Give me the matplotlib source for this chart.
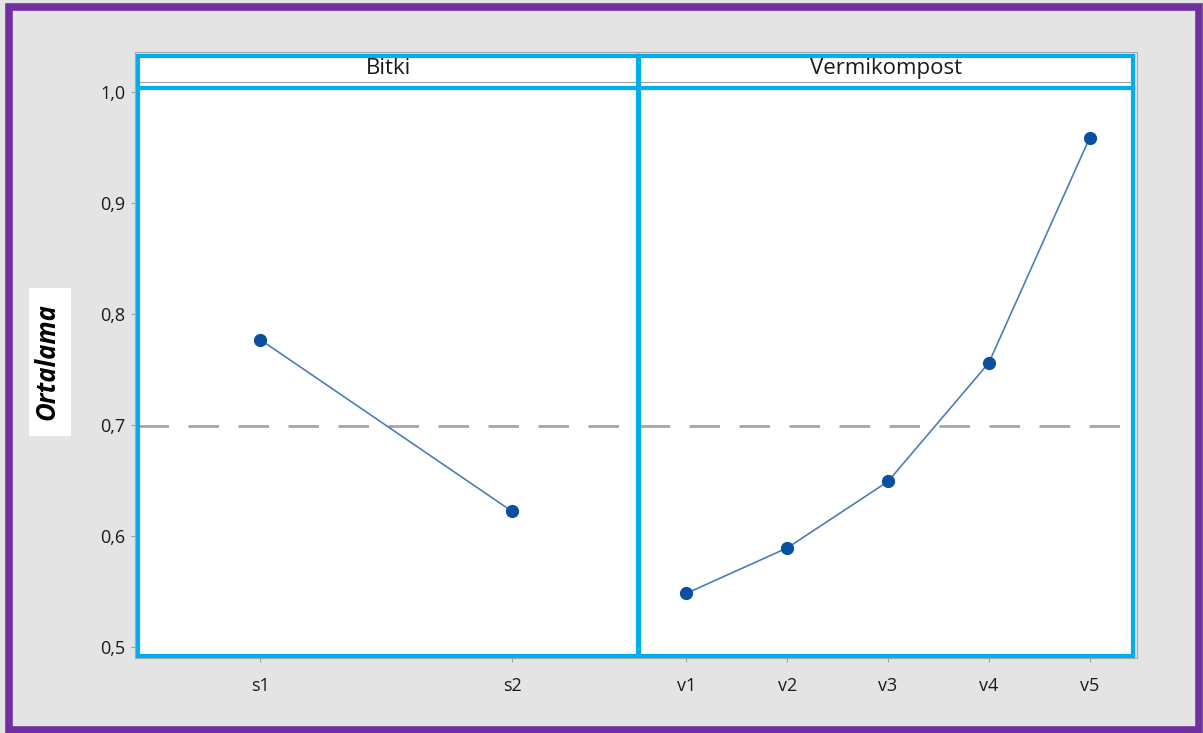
import matplotlib
matplotlib.use("Agg")
import matplotlib.pyplot as plt
from matplotlib.patches import Rectangle
from matplotlib.ticker import FixedLocator, FuncFormatter

# Data
bitki_levels = ["s1", "s2"]
bitki_means = [0.777, 0.622]
verm_levels = ["v1", "v2", "v3", "v4", "v5"]
verm_means = [0.548, 0.589, 0.649, 0.756, 0.959]
grand_mean = 0.699
panel_titles = ["Bitki", "Vermikompost"]
y_ticks = [0.5, 0.6, 0.7, 0.8, 0.9, 1.0]
y_label = "Ortalama"

plt.rcParams['font.family'] = ['Open Sans', 'DejaVu Sans']

W, H = 1203, 733
fig = plt.figure(figsize=(W / 100, H / 100), dpi=100)
fig.patch.set_facecolor('#e4e4e4')

def ax_rect(x0, y0, x1, y1):
    return [x0 / W, 1 - y1 / H, (x1 - x0) / W, (y1 - y0) / H]

BLUE = '#00aeef'
LINE = '#4a7ebb'
MARK = '#0a4fa0'
ylim = (0.4915, 1.004)

# outer thin gray frame
fig.patches.append(Rectangle((135 / W, 1 - 658 / H), (1137 - 135) / W, (658 - 52) / H,
                             transform=fig.transFigure, fill=False, ec='#a8a8a8', lw=0.8, zorder=0))

panels = [
    (138, 638, bitki_levels, bitki_means, (0.515, 2.5)),
    (639, 1133, verm_levels, verm_means, (0.53, 5.43)),
]
for i, (x0, x1, levels, means, xl) in enumerate(panels):
    ax = fig.add_axes(ax_rect(x0, 88, x1, 656))
    ax.set_facecolor('white')
    xs = list(range(1, len(levels) + 1))
    ax.plot(xs, means, color=LINE, lw=1.2, marker='o', ms=8.5,
            mfc=MARK, mec=MARK, zorder=3)
    ax.axhline(grand_mean, color='#a6a6a6', lw=2.0, dashes=(11, 7), zorder=2)
    ax.set_xlim(*xl)
    ax.set_ylim(*ylim)
    ax.set_xticks(xs)
    ax.set_xticklabels(levels, fontsize=13, color='#1a1a1a')
    ax.tick_params(axis='x', length=4, width=0.8, color='#a0a0a0', pad=11)
    for sp in ax.spines.values():
        sp.set_color(BLUE)
        sp.set_linewidth(3.0)
    if i == 0:
        ax.yaxis.set_major_locator(FixedLocator(y_ticks))
        ax.yaxis.set_major_formatter(FuncFormatter(lambda v, p: f"{v:.1f}".replace('.', ',')))
        ax.tick_params(axis='y', length=5, width=0.8, color='#a0a0a0', labelsize=13,
                       labelcolor='#1a1a1a', pad=4)
    else:
        ax.set_yticks([])
    # strip
    sax = fig.add_axes(ax_rect(x0, 56, x1, 88))
    sax.set_facecolor('white')
    sax.set_xticks([])
    sax.set_yticks([])
    for sp in sax.spines.values():
        sp.set_color(BLUE)
        sp.set_linewidth(3.0)
    sax.axhline(0.2, color='#a0a0a0', lw=0.8)
    sax.text(0.5, 0.6, panel_titles[i], transform=sax.transAxes, ha='center', va='center',
             fontsize=16, color='#1a1a1a')

# y label with white box
fig.patches.append(Rectangle((29 / W, 1 - 436 / H), 42 / W, 148 / H,
                             transform=fig.transFigure, fc='white', ec='none', zorder=1))
fig.text(47 / W, 1 - 362 / H, y_label, rotation=90, ha='center', va='center',
         fontsize=18.5, fontweight='bold', fontstyle='italic', color='black', zorder=2)

# purple border
fig.patches.append(Rectangle((8.5 / W, 1 - 729.5 / H), (1198.5 - 8.5) / W, (729.5 - 7) / H,
                             transform=fig.transFigure, fill=False, ec='#7030a0', lw=5.5, zorder=10))

fig.savefig('out.png', dpi=100, facecolor=fig.get_facecolor())
